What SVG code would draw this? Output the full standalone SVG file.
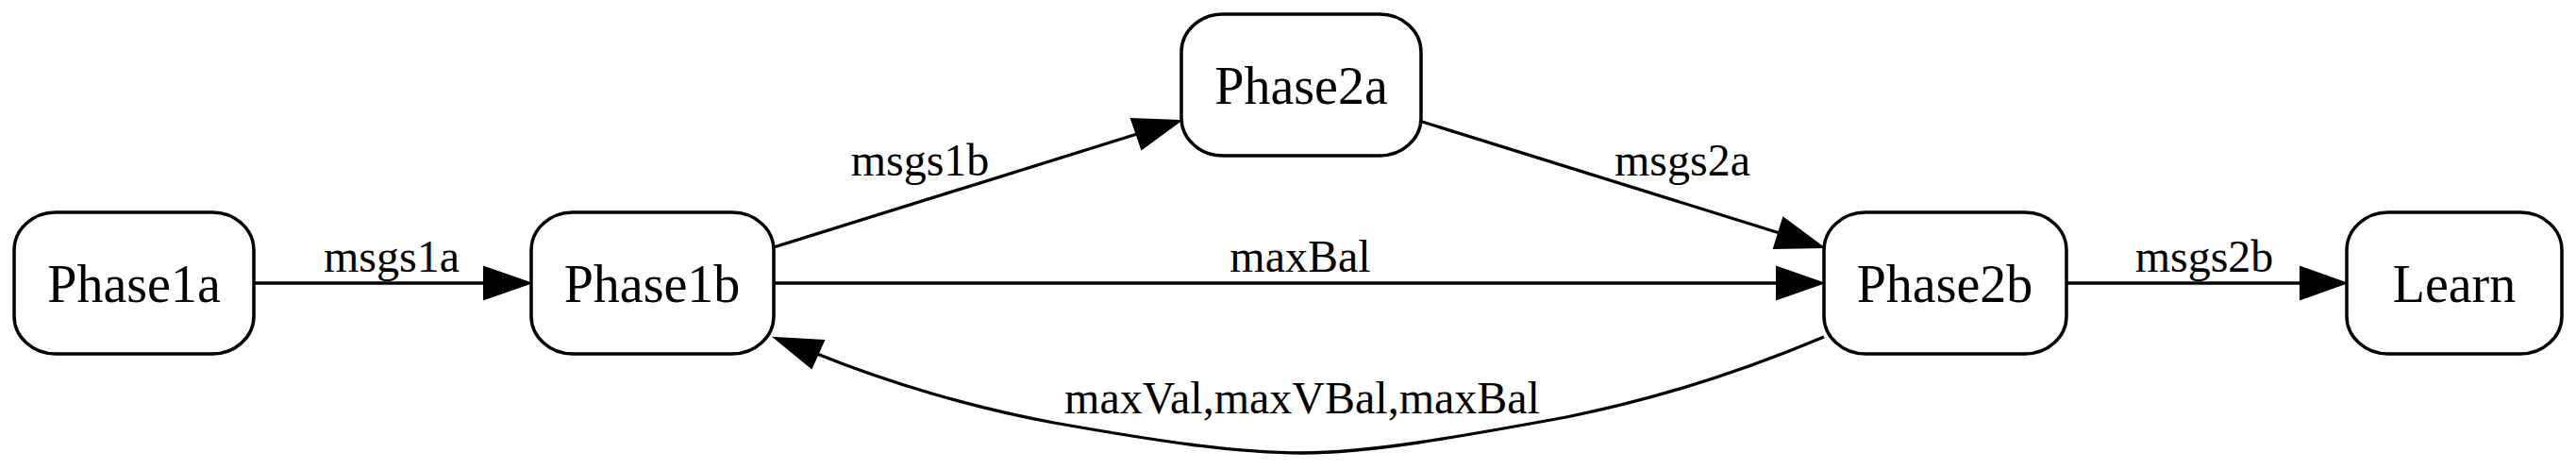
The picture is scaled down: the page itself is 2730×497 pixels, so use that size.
<svg xmlns="http://www.w3.org/2000/svg" width="2730" height="497" viewBox="0 0 2730 497">
<style>
.node rect{fill:#fff;stroke:#000;stroke-width:3.5}
.node text{font-family:"Liberation Serif","Times New Roman",serif;font-size:56px;text-anchor:middle;fill:#000}
.edges path.l{fill:none;stroke:#000;stroke-width:3.3}
.edges polygon{fill:#000;stroke:#000;stroke-width:2}
.edges text{font-family:"Liberation Serif","Times New Roman",serif;font-size:48px;text-anchor:middle;fill:#000}
</style>
<rect width="2730" height="497" fill="#fff"/>
<g id="edges" class="edges">
  <path class="l" d="M269,300 L514,300"/>
  <polygon points="562,300 513,283 513,317"/>
  <text x="415" y="288">msgs1a</text>

  <path class="l" d="M820,262 L1205,142"/>
  <polygon points="1251,128 1199,126 1210,158"/>
  <text x="975" y="186">msgs1b</text>

  <path class="l" d="M1504,128 L1886,247"/>
  <polygon points="1932,262 1890,231 1880,263"/>
  <text x="1783" y="186">msgs2a</text>

  <path class="l" d="M820,300 L1884,300"/>
  <polygon points="1932,300 1883,283 1883,317"/>
  <text x="1378" y="288">maxBal</text>

  <path class="l" d="M2190,300 L2439,300"/>
  <polygon points="2486,300 2438,283 2438,317"/>
  <text x="2336" y="288">msgs2b</text>

  <path class="l" d="M1933,357 C1850,392 1760,422 1660,442 C1540,464 1450,480 1380,480 C1310,480 1230,468 1117,448 C1030,432 940,405 866,375"/>
  <polygon points="821,358 873,361 860,390"/>
  <text x="1380" y="438">maxVal,maxVBal,maxBal</text>
</g>
<g id="Phase1a" class="node">
  <rect x="15" y="225" width="254" height="150" rx="44" ry="40"/>
  <text x="142" y="320">Phase1a</text>
</g>
<g id="Phase1b" class="node">
  <rect x="563" y="225" width="257" height="150" rx="44" ry="40"/>
  <text x="691" y="320">Phase1b</text>
</g>
<g id="Phase2a" class="node">
  <rect x="1252" y="15" width="254" height="150" rx="44" ry="40"/>
  <text x="1379" y="110">Phase2a</text>
</g>
<g id="Phase2b" class="node">
  <rect x="1933" y="225" width="257" height="150" rx="44" ry="40"/>
  <text x="2061" y="320">Phase2b</text>
</g>
<g id="Learn" class="node">
  <rect x="2487" y="225" width="228" height="150" rx="44" ry="40"/>
  <text x="2601" y="320">Learn</text>
</g>
</svg>
